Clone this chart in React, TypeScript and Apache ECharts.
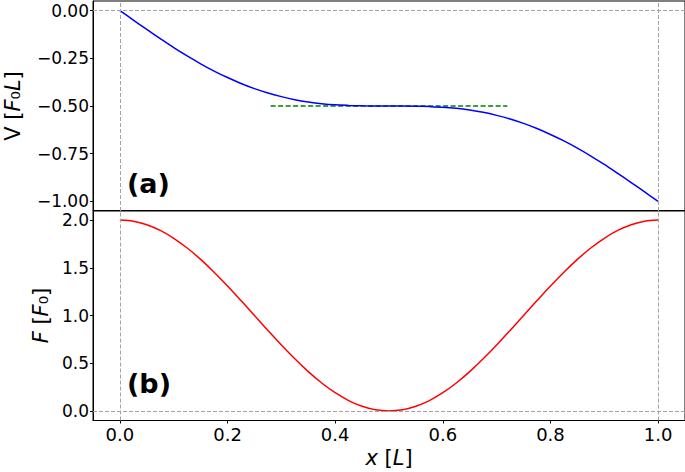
import React, { useEffect, useRef } from "react";
import * as echarts from "echarts";

// Sampled positions along the beam, x [L]
const xs = [
  0, 0.025, 0.05, 0.075, 0.1, 0.125, 0.15, 0.175, 0.2, 0.225, 0.25, 0.275, 0.3, 0.325, 0.35, 0.375, 0.4,
  0.425, 0.45, 0.475, 0.5, 0.525, 0.55, 0.575, 0.6, 0.625, 0.65, 0.675, 0.7, 0.725, 0.75, 0.775, 0.8,
  0.825, 0.85, 0.875, 0.9, 0.925, 0.95, 0.975, 1.0,
];
// Panel (a): V [F0 L]
const vValues = [
  0, -0.05, -0.099, -0.147, -0.194, -0.238, -0.279, -0.317, -0.351, -0.382, -0.409, -0.432, -0.451,
  -0.467, -0.479, -0.488, -0.494, -0.497, -0.499, -0.5, -0.5, -0.5, -0.501, -0.503, -0.506, -0.512,
  -0.521, -0.533, -0.549, -0.568, -0.591, -0.618, -0.649, -0.683, -0.721, -0.762, -0.806, -0.853,
  -0.901, -0.95, -1.0,
];
// Panel (b): F [F0]
const fValues = [
  2.0, 1.988, 1.951, 1.891, 1.809, 1.707, 1.588, 1.454, 1.309, 1.156, 1.0, 0.844, 0.691, 0.546, 0.412,
  0.293, 0.191, 0.109, 0.049, 0.012, 0.0, 0.012, 0.049, 0.109, 0.191, 0.293, 0.412, 0.546, 0.691, 0.844,
  1.0, 1.156, 1.309, 1.454, 1.588, 1.707, 1.809, 1.891, 1.951, 1.988, 2.0,
];
// Green dashed plateau reference in panel (a)
const plateauX = [0.28, 0.72];
const plateauV = [-0.5, -0.5];

// Tick values
const xTicks = [0, 0.2, 0.4, 0.6, 0.8, 1.0];
const vTicks = [-1.0, -0.75, -0.5, -0.25, 0.0];
const fTicks = [0.0, 0.5, 1.0, 1.5, 2.0];

const FONT = "DejaVu Sans";
const fmt = (v: number, d: number) => {
  const s = Math.abs(v).toFixed(d);
  return v < -1e-9 ? "\u2212" + s : s;
};

const gray = "#a3a3a3";
const refLine = (vals: { xAxis?: number; yAxis?: number }[]) => ({
  silent: true,
  symbol: ["none", "none"],
  label: { show: false },
  lineStyle: { color: gray, type: [4, 2], width: 1 },
  emphasis: { disabled: true },
  data: vals,
});

export default function App() {
  const ref = useRef<HTMLDivElement>(null);
  useEffect(() => {
    if (!ref.current) return;
    const chart = echarts.init(ref.current, null, { renderer: "svg" });
    const axisTick = { show: true, length: 3, lineStyle: { color: "#000", width: 1 } };
    const labelStyle = { color: "#000", fontFamily: FONT, fontSize: 18, lineHeight: 14 };
    const yLabelStyle = { color: "#000", fontFamily: FONT, fontSize: 17, lineHeight: 13 };
    const nameRich = {
      i: { fontStyle: "italic", fontFamily: FONT, fontSize: 21, color: "#000" },
      n: { fontFamily: FONT, fontSize: 21, color: "#000" },
    };
    chart.setOption({
      animation: false,
      backgroundColor: "#fff",
      grid: [
        { left: 93, top: 1, width: 592, height: 210, show: true, borderColor: "#000", borderWidth: 1, backgroundColor: "transparent", containLabel: false, outerBoundsMode: "none" },
        { left: 93, top: 210.5, width: 592, height: 210, show: true, borderColor: "#000", borderWidth: 1, backgroundColor: "transparent", containLabel: false, outerBoundsMode: "none" },
      ],
      xAxis: [
        {
          type: "value", gridIndex: 0, min: -0.05, max: 1.05,
          axisLine: { show: false }, axisTick: { show: false }, axisLabel: { show: false }, splitLine: { show: false },
        },
        {
          type: "value", gridIndex: 1, min: -0.05, max: 1.05,
          axisLine: { show: true, onZero: false, lineStyle: { color: "#000" } },
          axisTick: { ...axisTick, customValues: xTicks },
          axisLabel: { ...labelStyle, margin: 7, customValues: xTicks, formatter: (v: number) => fmt(v, 1) },
          splitLine: { show: false },
          name: "{i|x} {n|[}{i|L}{n|]}",
          nameLocation: "middle",
          nameGap: 27,
          nameTextStyle: { rich: nameRich, fontFamily: FONT, fontSize: 21 },
        },
      ],
      yAxis: [
        {
          type: "value", gridIndex: 0, min: -1.05, max: 0.05,
          axisLine: { show: true, onZero: false, lineStyle: { color: "#000" } },
          axisTick: { ...axisTick, customValues: vTicks },
          axisLabel: { ...yLabelStyle, margin: 4, customValues: vTicks, formatter: (v: number) => fmt(v, 2) },
          splitLine: { show: false },
          name: "{n|V [}{i|F}{n|\u2080}{i|L}{n|]}",
          nameLocation: "middle",
          nameRotate: 90,
          nameGap: 70,
          nameTextStyle: { rich: nameRich, fontFamily: FONT, fontSize: 21 },
        },
        {
          type: "value", gridIndex: 1, min: -0.1, max: 2.1,
          axisLine: { show: true, onZero: false, lineStyle: { color: "#000" } },
          axisTick: { ...axisTick, customValues: fTicks },
          axisLabel: { ...yLabelStyle, margin: 4, customValues: fTicks, formatter: (v: number) => fmt(v, 1) },
          splitLine: { show: false },
          name: "{i|F} {n|[}{i|F}{n|\u2080]}",
          nameLocation: "middle",
          nameRotate: 90,
          nameGap: 40,
          nameTextStyle: { rich: nameRich, fontFamily: FONT, fontSize: 21 },
        },
      ],
      series: [
        {
          type: "line", xAxisIndex: 0, yAxisIndex: 0, z: 1, silent: true, showSymbol: false, symbol: "none",
          data: [], markLine: refLine([{ yAxis: 0 }, { xAxis: 0 }, { xAxis: 1 }]),
        },
        {
          type: "line", xAxisIndex: 1, yAxisIndex: 1, z: 1, silent: true, showSymbol: false, symbol: "none",
          data: [], markLine: refLine([{ yAxis: 0 }, { xAxis: 0 }, { xAxis: 1 }]),
        },
        {
          type: "line", xAxisIndex: 0, yAxisIndex: 0, z: 3, silent: true, symbol: "none", smooth: 0.3,
          lineStyle: { color: "#0000ff", width: 1.5 },
          data: xs.map((x, i) => [x, vValues[i]]),
        },
        {
          type: "line", xAxisIndex: 0, yAxisIndex: 0, z: 2, silent: true, symbol: "none",
          lineStyle: { color: "#008000", width: 1.5, type: [5, 2.5] },
          data: plateauX.map((x, i) => [x, plateauV[i]]),
        },
        {
          type: "line", xAxisIndex: 1, yAxisIndex: 1, z: 3, silent: true, symbol: "none", smooth: 0.3,
          lineStyle: { color: "#ff0000", width: 1.5 },
          data: xs.map((x, i) => [x, fValues[i]]),
        },
      ],
      graphic: [
        { type: "text", left: 127, top: 170, style: { text: "(a)", font: `bold 27px "${FONT}"`, fill: "#000" } },
        { type: "text", left: 127, top: 370, style: { text: "(b)", font: `bold 27px "${FONT}"`, fill: "#000" } },
      ],
    });
    return () => chart.dispose();
  }, []);
  return <div ref={ref} style={{ position: "absolute", left: 0, top: 0, width: 685, height: 472 }} />;
}
